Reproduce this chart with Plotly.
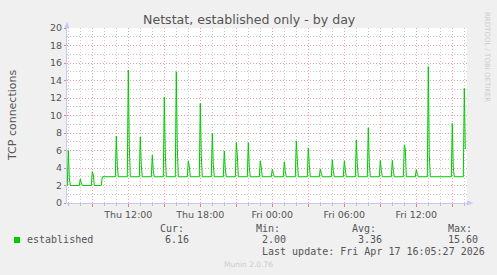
import plotly.graph_objects as go
import pandas as pd

# ---------------- data ----------------
spike_times = [
    "2026-04-16 07:00", "2026-04-16 08:00", "2026-04-16 09:00", "2026-04-16 11:00",
    "2026-04-16 12:00", "2026-04-16 13:00", "2026-04-16 14:00", "2026-04-16 15:00",
    "2026-04-16 16:00", "2026-04-16 17:00", "2026-04-16 18:00", "2026-04-16 19:00",
    "2026-04-16 20:00", "2026-04-16 21:00", "2026-04-16 22:00", "2026-04-16 23:00",
    "2026-04-17 00:00", "2026-04-17 01:00", "2026-04-17 02:00", "2026-04-17 03:00",
    "2026-04-17 04:00", "2026-04-17 05:00", "2026-04-17 06:00", "2026-04-17 07:00",
    "2026-04-17 08:00", "2026-04-17 09:00", "2026-04-17 10:00", "2026-04-17 11:00",
    "2026-04-17 12:00", "2026-04-17 13:00", "2026-04-17 15:00", "2026-04-17 16:00",
]
spike_peaks = [
    6.0, 2.75, 3.6, 7.65, 15.2, 7.55, 5.45, 12.1, 15.0, 4.8, 11.4, 7.95, 5.95, 6.9, 6.9, 4.8,
    3.85, 4.7, 7.1, 6.3, 3.9, 4.95, 4.8, 7.2, 8.6, 4.85, 4.85, 6.65, 3.8, 15.6, 9.1, 13.1,
]
spike_tails = [  # value one sample (5 min) after each peak
    2.9, 2.3, 3.2, 4.3, 6.5, 4.3, 3.7, 5.6, 6.4, 4.2, 5.4, 4.4, 3.9, 5.5, 4.1, 4.0,
    3.4, 3.6, 5.0, 4.4, 3.4, 3.7, 3.8, 4.5, 4.6, 3.8, 3.7, 6.2, 3.3, 5.5, 4.0, 6.16,
]
base_times = ["2026-04-16 06:55", "2026-04-16 09:45", "2026-04-16 09:50", "2026-04-17 16:05"]
base_vals = [2.0, 2.0, 3.0, 3.0]

x_tick_vals = [
    "2026-04-16 09:00", "2026-04-16 12:00", "2026-04-16 15:00", "2026-04-16 18:00",
    "2026-04-16 21:00", "2026-04-17 00:00", "2026-04-17 03:00", "2026-04-17 06:00",
    "2026-04-17 09:00", "2026-04-17 12:00", "2026-04-17 15:00",
]
x_tick_text = ["", "Thu 12:00", "", "Thu 18:00", "", "Fri 00:00", "", "Fri 06:00", "", "Fri 12:00", ""]
y_tick_vals = [0, 2, 4, 6, 8, 10, 12, 14, 16, 18, 20]

stat_names = ["Cur:", "Min:", "Avg:", "Max:"]
stat_values = ["6.16", "2.00", "3.36", "15.60"]

# ---------------- build series ----------------
five = pd.Timedelta(minutes=5)
bt = pd.to_datetime(base_times)
end_t = bt[-1]


def base_at(t):
    v = base_vals[0]
    for tt, vv in zip(bt, base_vals):
        if tt <= t:
            v = vv
    return v


pts = {t: v for t, v in zip(bt, base_vals)}
for ts, p, tl in zip(spike_times, spike_peaks, spike_tails):
    t = pd.Timestamp(ts)
    b = base_at(t)
    pts[t - five] = b
    pts[t] = p
    if t + five <= end_t:
        pts[t + five] = tl
    if t + 2 * five <= end_t:
        pts[t + 2 * five] = b
xs = sorted(pts)
ys = [pts[t] for t in xs]

# ---------------- layout helpers ----------------
W, H = 497, 275
L, R, T, B = 67, 467, 28, 203


def px(x):
    return (x - L) / (R - L)


def py(y):
    return (B - y) / (B - T)


TXT = "#555555"
MAJ = "#eea0a0"
MIN = "#c8c8c8"
AX = "#c8c8f4"
DASH = "1px,2px"
SANS = "DejaVu Sans"
MONO = "DejaVu Sans Mono"

fig = go.Figure()
fig.add_trace(go.Scatter(x=xs, y=ys, mode="lines", line=dict(color="#00cc00", width=1),
                         hoverinfo="skip", showlegend=False))

fig.update_layout(
    width=W, height=H,
    margin=dict(l=L, r=W - R, t=T, b=H - B),
    paper_bgcolor="#f0f0f0", plot_bgcolor="#ffffff",
    showlegend=False,
    font=dict(family=SANS, color=TXT, size=10),
)
fig.update_xaxes(
    type="date", range=["2026-04-16 06:53:30", "2026-04-17 16:13:30"],
    tickmode="array", tickvals=x_tick_vals, ticktext=x_tick_text,
    showgrid=True, gridcolor=MAJ, griddash=DASH, gridwidth=1,
    ticks="outside", ticklen=3, tickcolor="#f08080",
    tickfont=dict(family=SANS, size=9.5, color=TXT),
    minor=dict(dtick=3600000, tick0="2026-04-16 00:00", showgrid=True, gridcolor=MIN,
               griddash=DASH, ticks="outside", ticklen=2, tickcolor="#bbbbbb"),
    showline=True, linecolor=AX, linewidth=1, zeroline=False,
)
fig.update_yaxes(
    range=[0, 20], tickmode="array", tickvals=y_tick_vals,
    showgrid=True, gridcolor=MAJ, griddash=DASH, gridwidth=1,
    ticks="outside", ticklen=2, tickcolor="#f08080",
    tickfont=dict(family=SANS, size=9.5, color=TXT),
    minor=dict(dtick=1, tick0=0, showgrid=True, gridcolor=MIN, griddash=DASH),
    showline=True, linecolor=AX, linewidth=1, zeroline=False,
)

ann = []
ann.append(dict(text="Netstat, established only - by day", x=px(249), y=py(19), xref="paper", yref="paper",
                showarrow=False, xanchor="center", yanchor="middle",
                font=dict(family=SANS, size=12.6, color=TXT)))
ann.append(dict(text="TCP connections", x=px(12), y=py(115), xref="paper", yref="paper",
                showarrow=False, xanchor="center", yanchor="middle", textangle=-90,
                font=dict(family=SANS, size=11, color=TXT)))
ann.append(dict(text="RRDTOOL / TOBI OETIKER", x=px(487), y=py(57), xref="paper", yref="paper",
                showarrow=False, xanchor="center", yanchor="middle", textangle=90,
                font=dict(family=SANS, size=7, color="#cccccc")))
ann.append(dict(text="Munin 2.0.76", x=px(248), y=py(264), xref="paper", yref="paper",
                showarrow=False, xanchor="center", yanchor="middle",
                font=dict(family=SANS, size=7.5, color="#cccccc")))
ann.append(dict(text="established", x=px(26), y=py(239), xref="paper", yref="paper",
                showarrow=False, xanchor="left", yanchor="middle",
                font=dict(family=MONO, size=10, color=TXT)))
name_x = [158.5, 255, 351, 447]
val_x = [164.3, 261, 357, 447]
for n, nx in zip(stat_names, name_x):
    ann.append(dict(text=n, x=px(nx), y=py(228), xref="paper", yref="paper",
                    showarrow=False, xanchor="left", yanchor="middle",
                    font=dict(family=MONO, size=10, color=TXT)))
for v, vx in zip(stat_values, val_x):
    ann.append(dict(text=v, x=px(vx), y=py(239.5), xref="paper", yref="paper",
                    showarrow=False, xanchor="left", yanchor="middle",
                    font=dict(family=MONO, size=10, color=TXT)))
ann.append(dict(text="Last update: Fri Apr 17 16:05:27 2026", x=px(261), y=py(251.5), xref="paper", yref="paper",
                showarrow=False, xanchor="left", yanchor="middle",
                font=dict(family=MONO, size=10, color=TXT)))
for a in ann:
    a["borderpad"] = 0
fig.update_layout(annotations=ann)

shapes = [
    # legend colour square
    dict(type="rect", xref="paper", yref="paper", x0=px(14), x1=px(20), y0=py(243), y1=py(237),
         fillcolor="#00cc00", line=dict(width=0)),
    # y-axis arrow
    dict(type="path", xref="paper", yref="paper",
         path=f"M {px(64.5)} {py(28)} L {px(69.5)} {py(28)} L {px(67)} {py(21.5)} Z",
         fillcolor=AX, line=dict(width=0)),
    # x-axis arrow
    dict(type="path", xref="paper", yref="paper",
         path=f"M {px(467)} {py(200.5)} L {px(467)} {py(205.5)} L {px(473.5)} {py(203)} Z",
         fillcolor=AX, line=dict(width=0)),
]
fig.update_layout(shapes=shapes)

fig.write_html("out.html")
